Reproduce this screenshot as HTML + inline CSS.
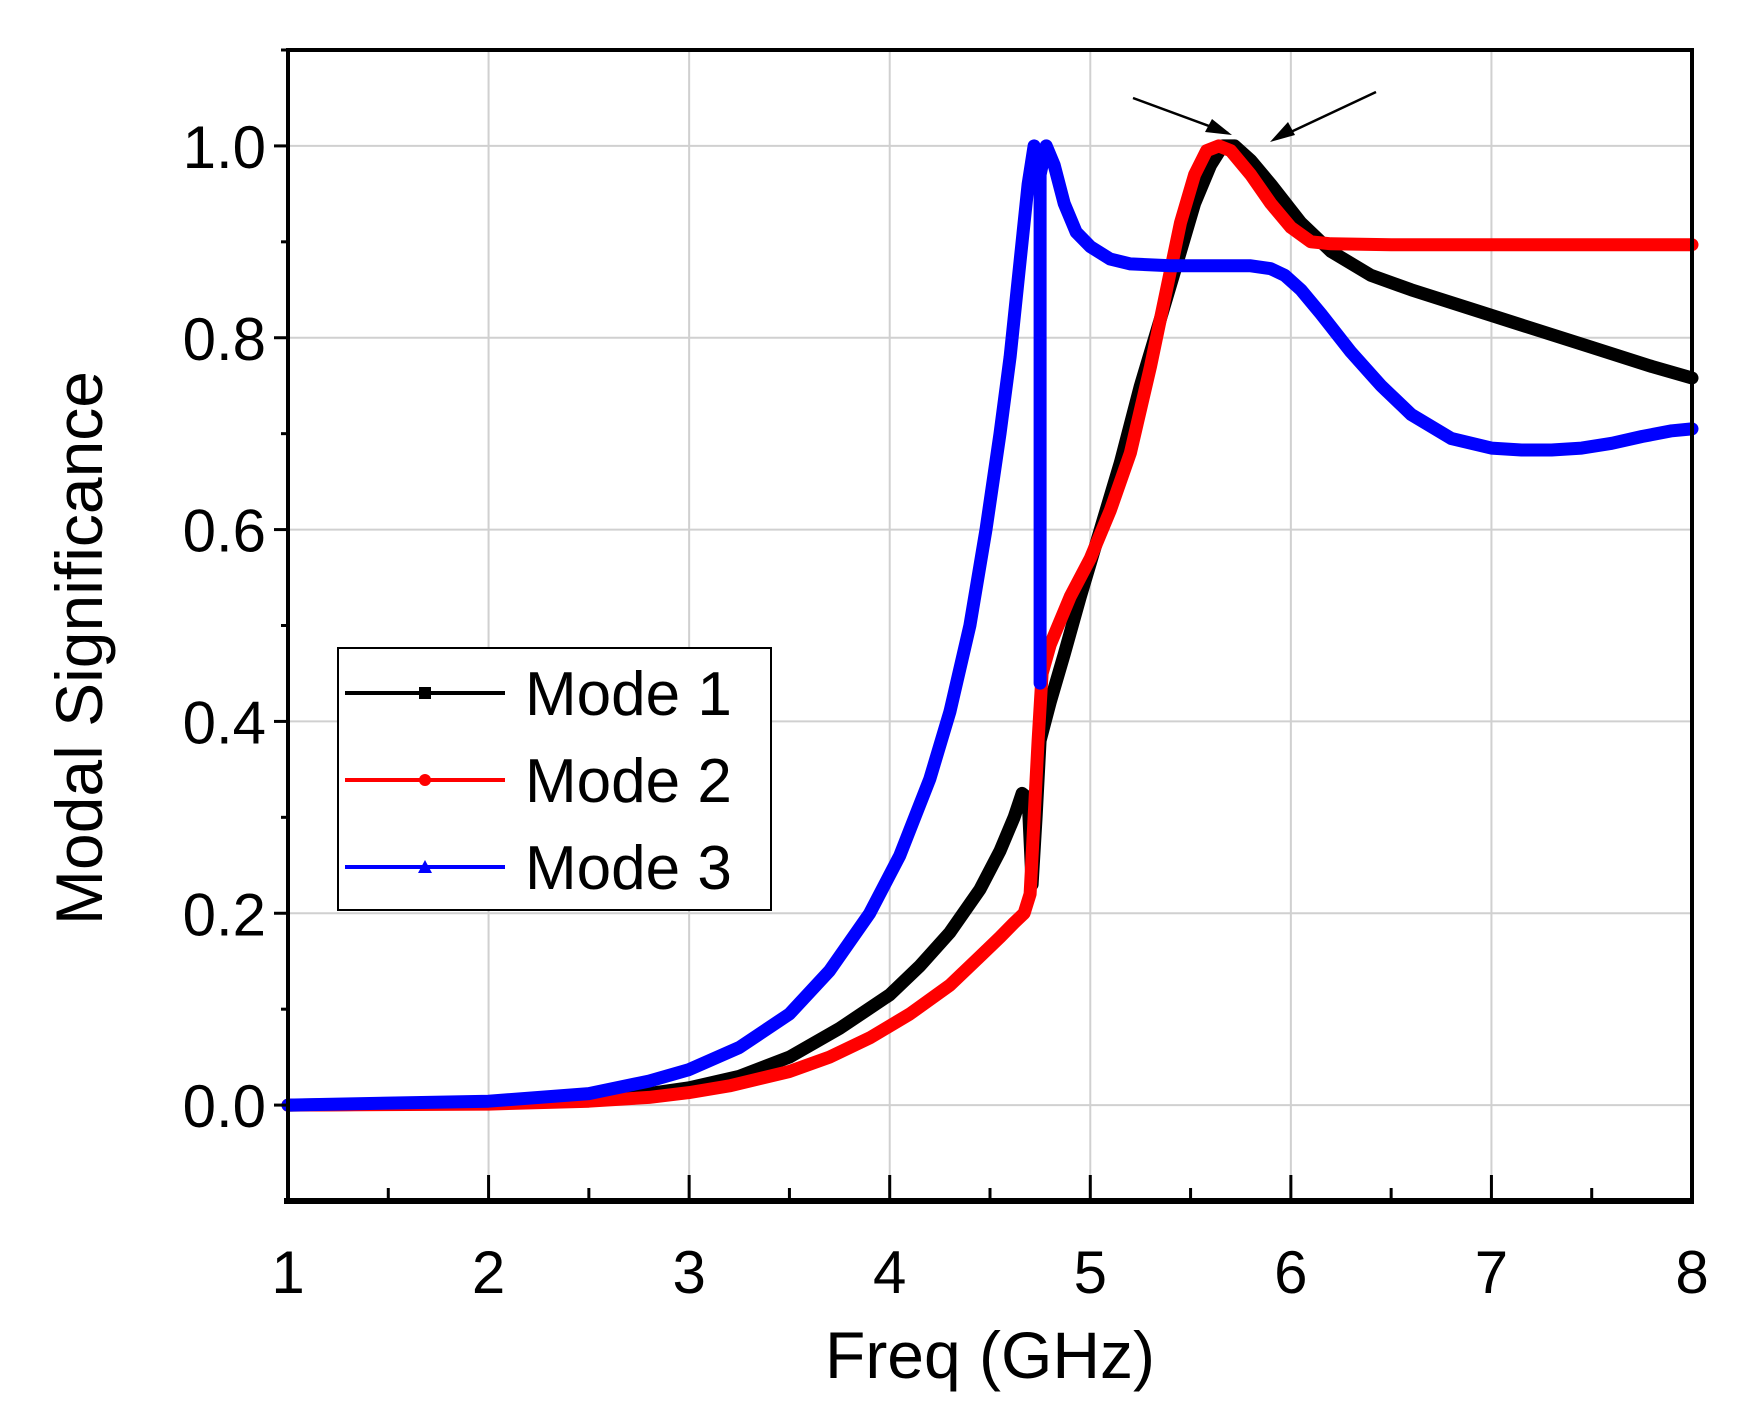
<!DOCTYPE html>
<html><head><meta charset="utf-8"><style>
html,body{margin:0;padding:0;background:#fff;width:1742px;height:1427px;overflow:hidden}
text{font-family:"Liberation Sans",Arial,sans-serif}
</style></head><body>
<svg id="chart" width="1742" height="1427" viewBox="0 0 1742 1427" xmlns="http://www.w3.org/2000/svg">
<g id="grid"></g>
<g id="series"></g>
<g id="axes"></g>
<g>
<rect x="338" y="648" width="433" height="262" fill="#fff" stroke="#000" stroke-width="2"/>
<g><line x1="345" y1="693" x2="505" y2="693" stroke="#000" stroke-width="4"/><rect x="419" y="687" width="12" height="12" fill="#000"/><text x="525" y="715" font-size="62">Mode 1</text></g>
<g><line x1="345" y1="780" x2="505" y2="780" stroke="#f00" stroke-width="4"/><circle cx="425" cy="780" r="6" fill="#f00"/><text x="525" y="802" font-size="62">Mode 2</text></g>
<g><line x1="345" y1="867" x2="505" y2="867" stroke="#00f" stroke-width="4"/><polygon points="425,860 432,873 418,873" fill="#00f"/><text x="525" y="889" font-size="62">Mode 3</text></g>
</g>
<g>
<line x1="1133" y1="98" x2="1228" y2="133" stroke="#000" stroke-width="2.5"/>
<polygon points="1232,135 1205,132 1212,119" fill="#000"/>
<line x1="1376" y1="92" x2="1278" y2="138" stroke="#000" stroke-width="2.5"/>
<polygon points="1270,142 1288,122 1295,135" fill="#000"/>
</g>
<text x="990" y="1378" font-size="66" text-anchor="middle">Freq (GHz)</text>
<text transform="translate(102,648) rotate(-90)" font-size="66" text-anchor="middle">Modal Significance</text>
</svg>
<script>
const xTicks=[1,2,3,4,5,6,7,8];
const yTicks=[0.0,0.2,0.4,0.6,0.8,1.0];
const yTickLabels=["0.0","0.2","0.4","0.6","0.8","1.0"];
const mode1X=[1,2,2.5,2.8,3,3.25,3.5,3.75,4,4.15,4.3,4.45,4.55,4.62,4.66,4.69,4.71,4.73,4.75,4.8,4.87,4.95,5.05,5.15,5.25,5.35,5.45,5.52,5.6,5.66,5.72,5.8,5.9,6.05,6.2,6.4,6.6,6.9,7.2,7.5,7.8,8];
const mode1Y=[0,0.002,0.006,0.012,0.018,0.03,0.05,0.08,0.115,0.145,0.18,0.225,0.265,0.3,0.325,0.32,0.23,0.3,0.38,0.42,0.47,0.53,0.6,0.67,0.75,0.82,0.89,0.94,0.98,1.0,1.0,0.985,0.96,0.92,0.89,0.865,0.85,0.83,0.81,0.79,0.77,0.758];
const mode2X=[1,2,2.5,2.8,3,3.2,3.5,3.7,3.9,4.1,4.3,4.45,4.55,4.62,4.67,4.7,4.72,4.74,4.76,4.8,4.9,5.0,5.1,5.2,5.3,5.38,5.45,5.52,5.58,5.64,5.7,5.8,5.9,6.0,6.1,6.2,6.5,7,7.5,8];
const mode2Y=[0,0.001,0.004,0.008,0.013,0.02,0.035,0.05,0.07,0.095,0.125,0.155,0.175,0.19,0.2,0.22,0.3,0.38,0.45,0.48,0.53,0.57,0.62,0.68,0.77,0.85,0.92,0.97,0.995,1.0,0.995,0.97,0.94,0.915,0.9,0.898,0.897,0.897,0.897,0.897];
const mode3X=[1,2,2.5,2.8,3,3.25,3.5,3.7,3.9,4.05,4.2,4.3,4.4,4.48,4.55,4.6,4.65,4.69,4.72,4.75,4.75,4.75,4.78,4.82,4.87,4.93,5.0,5.1,5.2,5.4,5.6,5.8,5.9,5.97,6.05,6.15,6.3,6.45,6.6,6.8,7.0,7.15,7.3,7.45,7.6,7.75,7.9,8];
const mode3Y=[0,0.004,0.012,0.025,0.037,0.06,0.095,0.14,0.2,0.26,0.34,0.41,0.5,0.6,0.7,0.78,0.88,0.96,1.0,0.97,0.44,0.97,1.0,0.98,0.94,0.91,0.895,0.882,0.877,0.875,0.875,0.875,0.872,0.865,0.85,0.825,0.785,0.75,0.72,0.695,0.685,0.683,0.683,0.685,0.69,0.697,0.703,0.705];
const L=288,R=1692,T=50,B=1201,xmin=1,xmax=8,ymin=-0.1,ymax=1.1;
const sx=v=>L+(v-xmin)/(xmax-xmin)*(R-L);
const sy=v=>B-(v-ymin)/(ymax-ymin)*(B-T);
const NS="http://www.w3.org/2000/svg";
function mk(tag,attrs,parent){const e=document.createElementNS(NS,tag);for(const k in attrs)e.setAttribute(k,attrs[k]);parent.appendChild(e);return e;}
const grid=document.getElementById('grid'),axes=document.getElementById('axes'),series=document.getElementById('series');
xTicks.forEach(v=>{if(v>xmin&&v<xmax){const g=mk('line',{x1:sx(v),x2:sx(v),y1:T,y2:B,stroke:'#d0d0d0','stroke-width':2},grid);

}});
yTicks.forEach(v=>{const g=mk('line',{x1:L,x2:R,y1:sy(v),y2:sy(v),stroke:'#d0d0d0','stroke-width':2},grid);

});
function drawSeries(xs,ys,color,name){
const d=xs.map((x,i)=>(i?'L':'M')+sx(x).toFixed(1)+','+sy(ys[i]).toFixed(1)).join('');
const p=mk('path',{d:d,fill:'none',stroke:color,'stroke-width':13,'stroke-linejoin':'round','stroke-linecap':'round'},series);

}
drawSeries(mode1X,mode1Y,'#000','mode-1-line');
drawSeries(mode2X,mode2Y,'#f00','mode-2-line');
drawSeries(mode3X,mode3Y,'#00f','mode-3-line');
const fr=mk('rect',{x:L,y:T,width:R-L,height:B-T,fill:'none',stroke:'#000','stroke-width':4},axes);


mk('line',{x1:L-4,x2:R+2,y1:B,y2:B,stroke:'#000','stroke-width':6},axes);
xTicks.forEach((v,i)=>{mk('line',{x1:sx(v),x2:sx(v),y1:B,y2:B-26,stroke:'#000','stroke-width':3},axes);
if(i<xTicks.length-1)mk('line',{x1:sx(v+0.5),x2:sx(v+0.5),y1:B,y2:B-13,stroke:'#000','stroke-width':3},axes);
const t=mk('text',{x:sx(v),y:B+92,'font-size':60,'text-anchor':'middle'},axes);t.textContent=v;

});
yTicks.forEach((v,i)=>{mk('line',{x1:L-14,x2:L,y1:sy(v),y2:sy(v),stroke:'#000','stroke-width':3},axes);
mk('line',{x1:L-7,x2:L,y1:sy(v+0.1),y2:sy(v+0.1),stroke:'#000','stroke-width':3},axes);
const t=mk('text',{x:L-22,y:sy(v)+22,'font-size':60,'text-anchor':'end'},axes);t.textContent=yTickLabels[i];

});
</script>
</body></html>
